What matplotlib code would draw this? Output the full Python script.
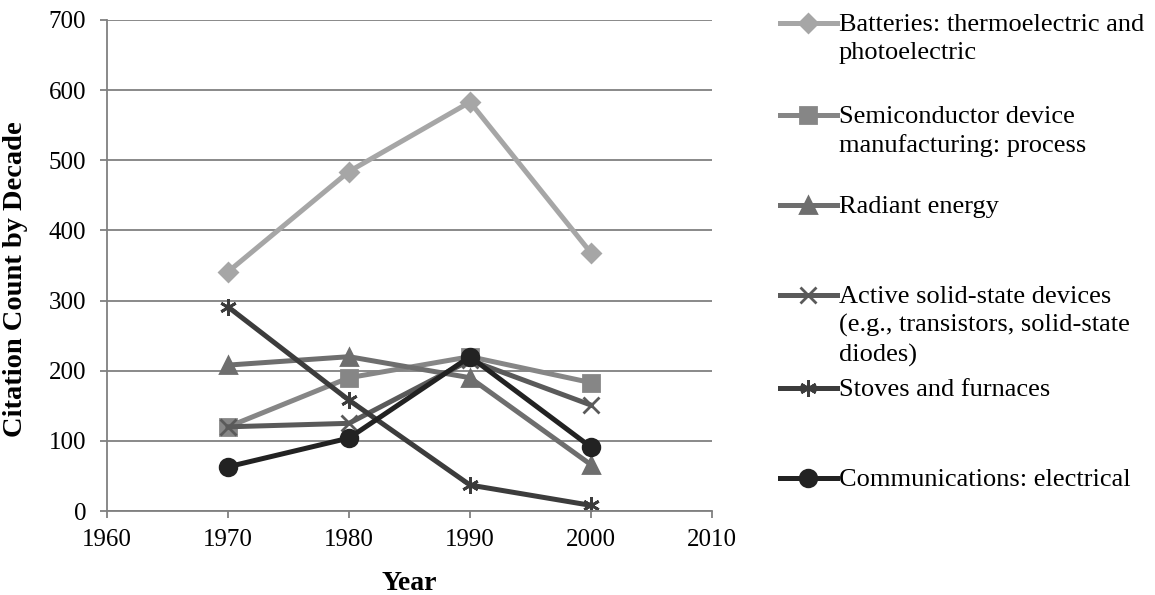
import matplotlib.pyplot as plt
from matplotlib.lines import Line2D

plt.rcParams['font.family'] = ['Liberation Serif', 'DejaVu Serif']

years = [1970, 1980, 1990, 2000]
labels = [
    "Batteries: thermoelectric and\nphotoelectric",
    "Semiconductor device\nmanufacturing: process",
    "Radiant energy",
    "Active solid-state devices\n(e.g., transistors, solid-state\ndiodes)",
    "Stoves and furnaces",
    "Communications: electrical",
]
batteries = [341, 484, 583, 368]
semiconductor = [120, 190, 220, 183]
radiant = [208, 220, 190, 66]
active = [120, 125, 215, 151]
stoves = [291, 158, 37, 8]
communications = [63, 104, 220, 91]

series = [batteries, semiconductor, radiant, active, stoves, communications]
colors = ['#a6a6a6', '#868686', '#6e6e6e', '#5a5a5a', '#3c3c3c', '#222222']
markers = ['D', 's', '^', 'x', (6, 2, 0), 'o']
msizes = [9, 11, 11, 11, 12, 12]

W, H = 1155, 595
fig = plt.figure(figsize=(W / 100, H / 100), dpi=100)
ax = fig.add_axes([107 / W, 1 - 511 / H, (712 - 107) / W, (511 - 20) / H])

for vals, c, m, ms in zip(series, colors, markers, msizes):
    ax.plot(years, vals, color=c, lw=3.6, marker=m, markersize=ms,
            markeredgewidth=2, markeredgecolor=c, markerfacecolor=c)

ax.set_xlim(1960, 2010)
ax.set_ylim(0, 700)
ax.set_xticks(range(1960, 2011, 10))
ax.set_yticks(range(0, 701, 100))
ax.yaxis.grid(True, color='#808080', lw=1.3)
ax.set_axisbelow(True)
for s in ['top', 'right']:
    ax.spines[s].set_visible(False)
for s in ['left', 'bottom']:
    ax.spines[s].set_color('#808080')
    ax.spines[s].set_linewidth(1.3)
ax.tick_params(axis='both', labelsize=18, color='#808080', length=5, width=1.3)
ax.tick_params(axis='x', pad=8)
ax.tick_params(axis='y', pad=10)

ax.set_xlabel('Year', fontsize=20, fontweight='bold', va='center')
ax.xaxis.set_label_coords(0.5, (511 - 584) / 491)
ax.set_ylabel('Citation Count by Decade', fontsize=20.5, fontweight='bold', va='center')
ax.yaxis.set_label_coords((16 - 107) / 605, (511 - 279) / 491)

# legend drawn by hand to match the spreading of entries
entry_y = [23, 115, 205, 295, 388, 478]
for lab, y, c, m, ms in zip(labels, entry_y, colors, markers, msizes):
    yf = 1 - y / H
    fig.add_artist(Line2D([780 / W, 837 / W], [yf, yf], color=c, lw=3.6,
                          transform=fig.transFigure))
    fig.add_artist(Line2D([808 / W], [yf], color=c, marker=m, markersize=ms,
                          markeredgewidth=2, markeredgecolor=c, markerfacecolor=c,
                          transform=fig.transFigure))
    fig.text(839 / W, 1 - (y - 9) / H, lab, fontsize=19, va='top', ha='left',
             linespacing=1.36, transform=fig.transFigure)

plt.savefig('out.png', dpi=100)
